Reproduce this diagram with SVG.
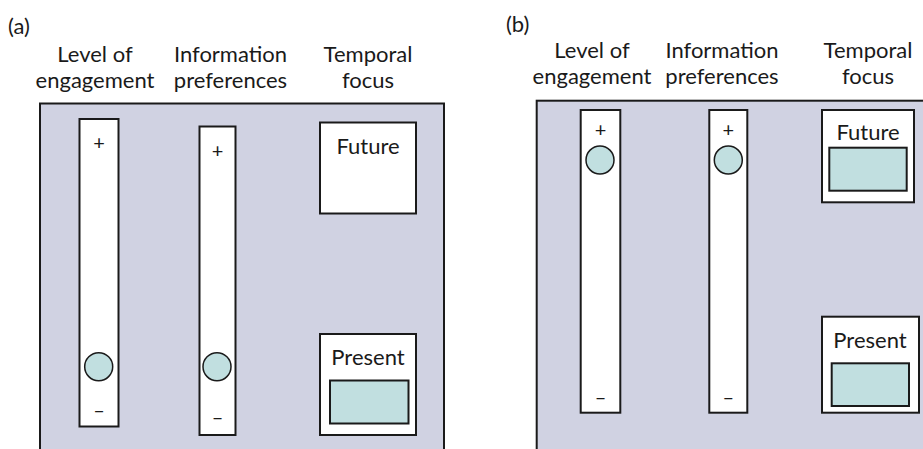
<svg xmlns="http://www.w3.org/2000/svg" width="923" height="449" viewBox="0 0 923 449">
<style>
text{font-family:Lato,"Open Sans","Liberation Sans",sans-serif;fill:#1a1a1a}
.h{font-size:22px;text-anchor:middle}
.l{font-size:22px}
.s{font-size:20px;text-anchor:middle}
.panel{fill:#d0d2e2;stroke:#1a1a1a;stroke-width:2}
.bar{fill:#fff;stroke:#1a1a1a;stroke-width:2}
.box{fill:#fff;stroke:#1a1a1a;stroke-width:2}
.knob{fill:#c1dfe0;stroke:#1a1a1a;stroke-width:1.5}
.fill{fill:#c1dfe0;stroke:#1a1a1a;stroke-width:2}
</style>
<rect width="923" height="449" fill="#fff"/>
<g id="panel-a">
<text class="l" x="8" y="34">(a)</text>
<text class="h" x="95" y="62">Level of</text>
<text class="h" x="95" y="88">engagement</text>
<text class="h" x="230.5" y="62">Information</text>
<text class="h" x="230.5" y="88">preferences</text>
<text class="h" x="368" y="62">Temporal</text>
<text class="h" x="368" y="88">focus</text>
<rect class="panel" x="40" y="103.5" width="404" height="360"/>
</g>
<g id="a-engagement">
<rect class="bar" x="79.5" y="119" width="39" height="307.5"/>
<text class="s" x="99" y="150">+</text>
<circle class="knob" cx="98.7" cy="366.7" r="14"/>
<text class="s" x="99" y="417">–</text>
</g>
<g id="a-information">
<rect class="bar" x="199.5" y="126.5" width="36" height="308.5"/>
<text class="s" x="217.5" y="158">+</text>
<circle class="knob" cx="217" cy="366.7" r="14"/>
<text class="s" x="217.5" y="424">–</text>
</g>
<g id="a-future">
<rect class="box" x="320" y="122.5" width="96" height="91"/>
<text class="h" x="368" y="153.5">Future</text>
</g>
<g id="a-present">
<rect class="box" x="320" y="334" width="96" height="101"/>
<text class="h" x="368" y="365">Present</text>
<rect class="fill" x="330" y="380.5" width="78.5" height="43"/>
</g>
<g id="panel-b">
<text class="l" x="506" y="32">(b)</text>
<text class="h" x="592" y="58.3">Level of</text>
<text class="h" x="592" y="84.3">engagement</text>
<text class="h" x="722" y="58.3">Information</text>
<text class="h" x="722" y="84.3">preferences</text>
<text class="h" x="868" y="58.3">Temporal</text>
<text class="h" x="868" y="84.3">focus</text>
<rect class="panel" x="536.7" y="100.7" width="400" height="360"/>
</g>
<g id="b-engagement">
<rect class="bar" x="580.7" y="110" width="39.6" height="302.7"/>
<text class="s" x="600.5" y="137">+</text>
<circle class="knob" cx="600" cy="160" r="14"/>
<text class="s" x="600.5" y="404">–</text>
</g>
<g id="b-information">
<rect class="bar" x="709.3" y="110" width="38" height="302.7"/>
<text class="s" x="728.3" y="137">+</text>
<circle class="knob" cx="728.3" cy="160" r="14"/>
<text class="s" x="728.3" y="404">–</text>
</g>
<g id="b-future">
<rect class="box" x="822" y="110" width="92" height="92.3"/>
<text class="h" x="868" y="140">Future</text>
<rect class="fill" x="829.3" y="147.7" width="77.4" height="43"/>
</g>
<g id="b-present">
<rect class="box" x="822" y="316.7" width="97" height="96"/>
<text class="h" x="870" y="347.7">Present</text>
<rect class="fill" x="831.7" y="363.3" width="77.3" height="42.7"/>
</g>
<g id="connectors"/>
</svg>
